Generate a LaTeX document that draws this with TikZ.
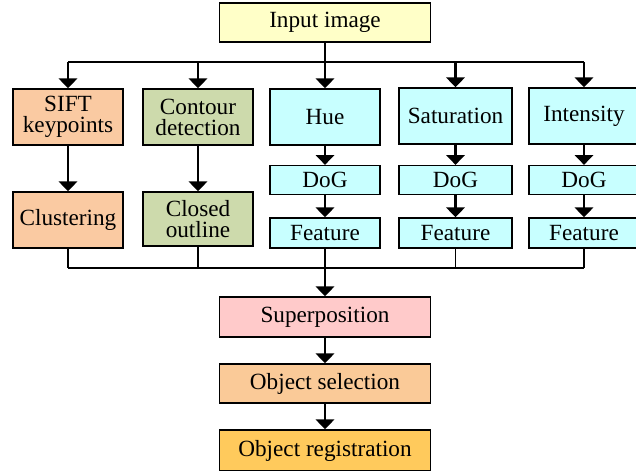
\documentclass[tikz,border=0pt]{standalone}
\usepackage{fontspec}
\setmainfont{Liberation Serif}
\usepackage{xcolor}
\usetikzlibrary{positioning}
\usetikzlibrary{arrows.meta}

\definecolor{inputfill}{RGB}{255,255,200}
\definecolor{siftfill}{RGB}{250,202,162}
\definecolor{contourfill}{RGB}{205,218,172}
\definecolor{channelfill}{RGB}{200,255,255}
\definecolor{superfill}{RGB}{255,202,202}
\definecolor{selectfill}{RGB}{250,202,152}
\definecolor{registerfill}{RGB}{255,202,92}

\begin{document}
\begin{tikzpicture}[x=0.025cm, y=-0.025cm,
    box/.style={draw, line width=1pt, inner sep=0pt, align=center,
        font=\fontsize{16.5}{15}\selectfont},
    wide/.style={box, minimum width=5.275cm, minimum height=1cm},
    tall/.style={box, minimum width=2.75cm, minimum height=1.4cm},
    thin/.style={box, minimum width=2.75cm, minimum height=0.72cm},
    flow/.style={line width=2pt, -{Triangle[width=13pt,length=7pt]}},
    bus/.style={line width=2pt},
    collect/.style={line width=1.4pt}]
    \useasboundingbox (0,0) rectangle (636,471);

    % input
    \node[wide, fill=inputfill, minimum height=0.975cm] (input) at (325,22.5) {Input image};

    % first row
    \node[tall, fill=siftfill] (sift) at (68,117) {SIFT\\keypoints};
    \node[tall, fill=contourfill] (contour) at (198,117) {Contour\\detection};
    \node[tall, fill=channelfill] (hue) at (325,117) {Hue};
    \node[tall, fill=channelfill, minimum width=2.825cm] (sat) at (455.5,116) {Saturation};
    \node[tall, fill=channelfill] (inten) at (584,116) {Intensity};

    % second row
    \node[tall, fill=siftfill] (clus) at (68,220) {Clustering};
    \node[tall, fill=contourfill, minimum height=1.35cm] (closed) at (198,219) {Closed\\outline};
    \node[thin, fill=channelfill] (dogh) at (325,180) {DoG};
    \node[thin, fill=channelfill, minimum width=2.825cm] (dogs) at (455.5,180) {DoG};
    \node[thin, fill=channelfill] (dogi) at (584,180) {DoG};
    \node[thin, fill=channelfill, minimum height=0.75cm] (feath) at (325,233) {Feature};
    \node[thin, fill=channelfill, minimum width=2.825cm, minimum height=0.75cm] (feats) at (455.5,233) {Feature};
    \node[thin, fill=channelfill, minimum height=0.75cm] (feati) at (584,233) {Feature};

    % output chain
    \node[wide, fill=superfill] (super) at (325,317) {Superposition};
    \node[wide, fill=selectfill, minimum height=0.975cm] (select) at (325,383.5) {Object selection};
    \node[wide, fill=registerfill, minimum height=1.025cm] (register) at (325,450.5) {Object registration};

    % splitting
    \coordinate (top) at (325,62);
    \draw[flow] (input.south) -- (hue.north);
    \draw[bus] (sift.north |- top) -- (inten.north |- top);
    \foreach \n in {sift,contour,sat,inten}
        \draw[flow] (\n.north |- top) -- (\n.north);

    % columns
    \draw[flow] (sift) -- (clus);
    \draw[flow] (contour) -- (closed);
    \draw[flow] (hue) -- (dogh);
    \draw[flow] (sat) -- (dogs);
    \draw[flow] (inten) -- (dogi);
    \draw[flow] (dogh) -- (feath);
    \draw[flow] (dogs) -- (feats);
    \draw[flow] (dogi) -- (feati);

    % merging
    \coordinate (bot) at (325,268);
    \foreach \n in {clus,closed,feats,feati}
        \draw[collect] (\n.south) -- (\n.south |- bot);
    \draw[collect] (clus.south |- bot) -- (feati.south |- bot);
    \draw[flow] (feath) -- (super);
    \draw[flow] (super) -- (select);
    \draw[flow] (select) -- (register);
\end{tikzpicture}
\end{document}
